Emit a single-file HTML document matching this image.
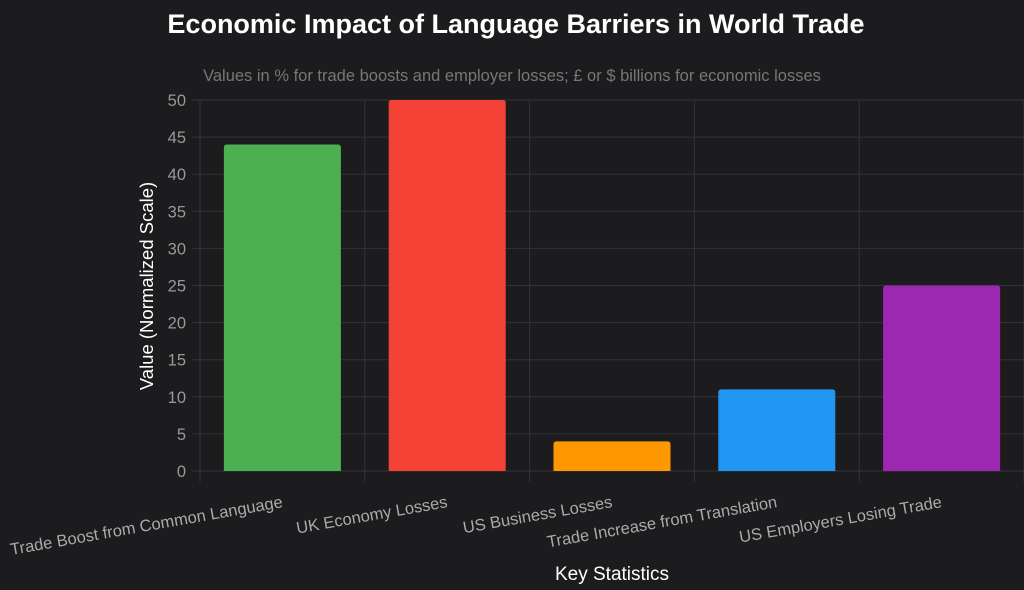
<!DOCTYPE html>
<html><head><meta charset="utf-8"><style>
body{margin:0;background:#1c1c1e;}
svg{display:block;font-family:"Liberation Sans",Arial,sans-serif;}
</style></head><body>
<svg width="1024" height="590" id="c">
<rect width="1024" height="590" fill="#1c1c1e"/>
<text x="516" y="33" text-anchor="middle" fill="#fff" font-size="27" font-weight="bold">Economic Impact of Language Barriers in World Trade</text>
<text x="512" y="81" text-anchor="middle" fill="#777" font-size="16.5">Values in % for trade boosts and employer losses; £ or $ billions for economic losses</text>
<text transform="translate(153,286) rotate(-90)" text-anchor="middle" fill="#fff" font-size="18.5">Value (Normalized Scale)</text>
<text x="612" y="580" text-anchor="middle" fill="#fff" font-size="19">Key Statistics</text>
<g id="grid"></g><g id="bars"></g><g id="labels"></g>
</svg>
<script>
const categories=["Trade Boost from Common Language","UK Economy Losses","US Business Losses","Trade Increase from Translation","US Employers Losing Trade"];
const values=[44,50,4,11,25];
const colors=["#4caf50","#f44336","#ff9800","#2196f3","#9c27b0"];
const yTicks=[0,5,10,15,20,25,30,35,40,45,50];
const NS="http://www.w3.org/2000/svg";
const L=200,R=1024,T=100,B=471,yMax=50;
const bw=(R-L)/categories.length;
const y=v=>B-(v/yMax)*(B-T);
const x=i=>L+i*bw;
function mk(t,a,p){const e=document.createElementNS(NS,t);for(const k in a)e.setAttribute(k,a[k]);p.appendChild(e);return e;}
const g=document.getElementById('grid'),bg=document.getElementById('bars'),lg=document.getElementById('labels');
yTicks.forEach(v=>{
 const l=mk('line',{x1:L-8,x2:R,y1:y(v),y2:y(v),stroke:'#333336','stroke-width':1},g);
 
 
 const t=mk('text',{x:L-14,y:y(v)+6,'text-anchor':'end',fill:'#999','font-size':16.5},g);
 t.textContent=v;
 
 
});
for(let i=0;i<=categories.length;i++){
 const l=mk('line',{x1:x(i),x2:x(i),y1:T,y2:B+11,stroke:'#333336','stroke-width':1},g);
 
 
}
categories.forEach((c,i)=>{
 const w=bw*0.71,cx=x(i)+bw/2;
 const r=mk('path',{d:`M${cx-w/2},${B} V${y(values[i])+3} q0,-3 3,-3 H${cx+w/2-3} q3,0 3,3 V${B} Z`,fill:colors[i]},bg);
 
 
 const t=mk('text',{x:cx+1,y:B+36,'text-anchor':'end',fill:'#aaa','font-size':16.5,transform:`rotate(-10 ${cx+1} ${B+36})`},lg);
 t.textContent=c;
 
 
});
</script>
</body></html>
